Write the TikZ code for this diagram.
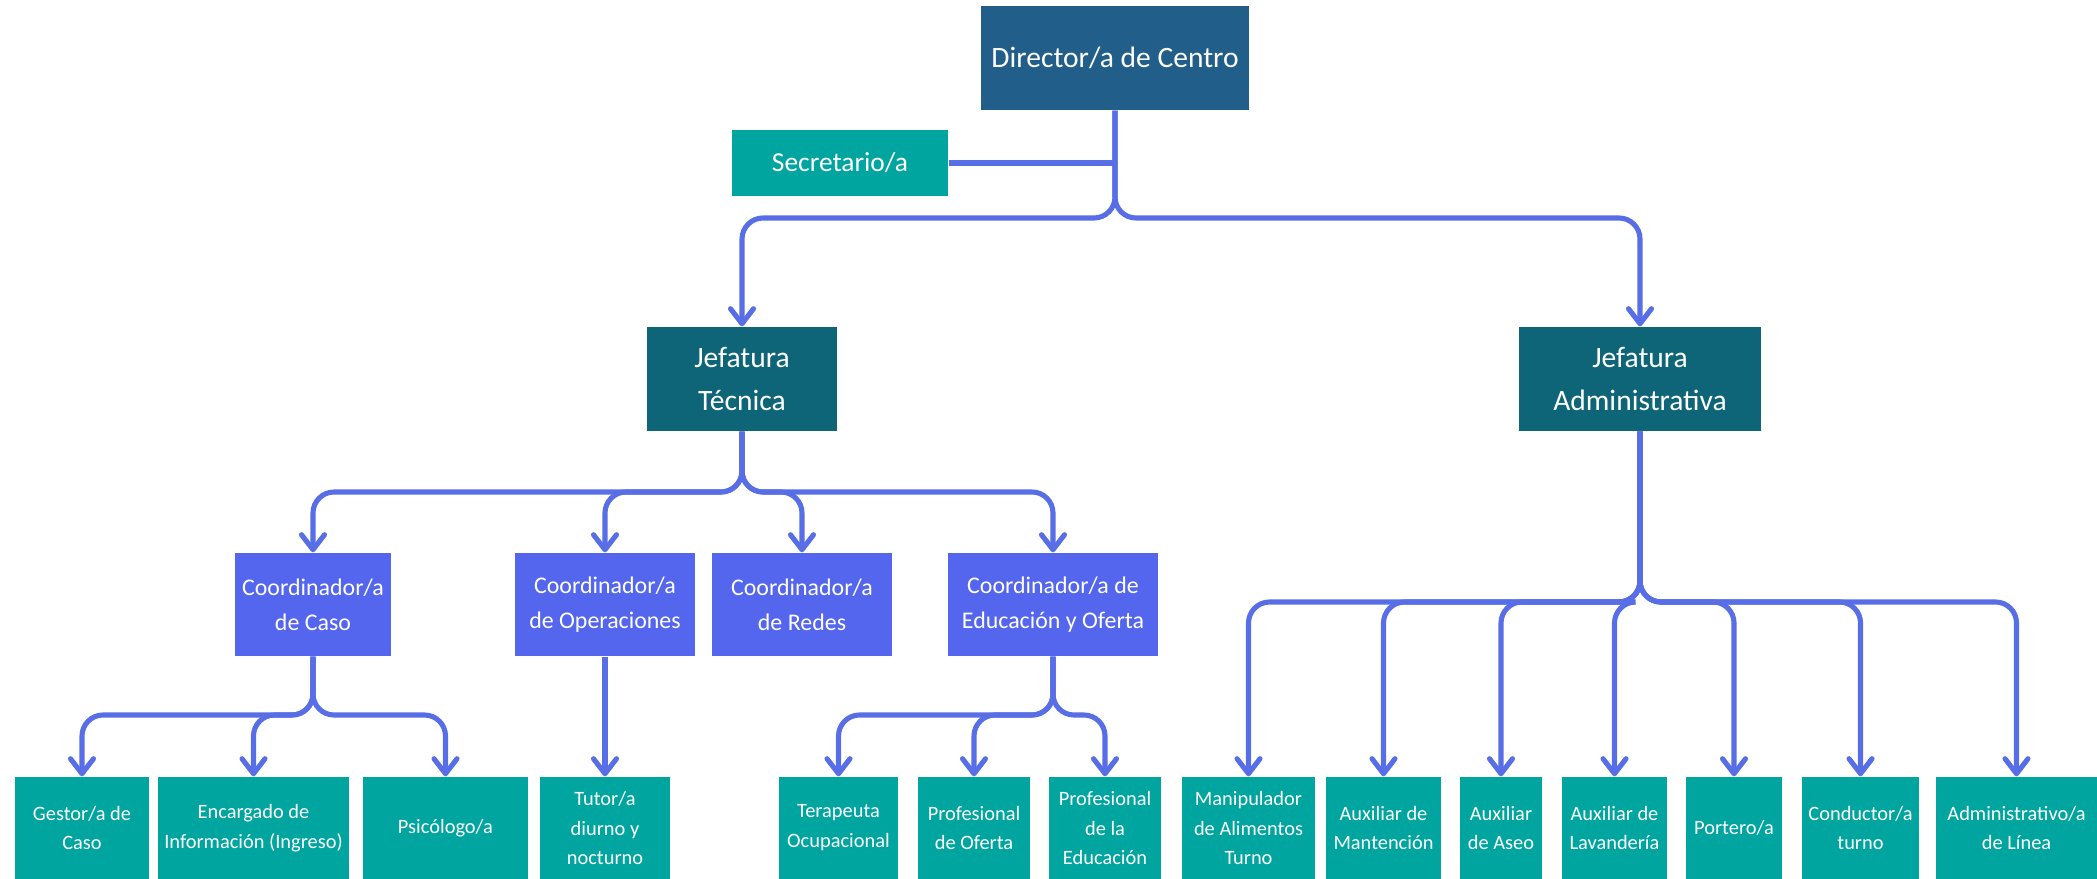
\documentclass[tikz,border=0pt]{standalone}
\usepackage{fontspec}
\setmainfont{Carlito}
\usetikzlibrary{arrows.meta}

\definecolor{dirblue}{RGB}{33,94,138}
\definecolor{jefeteal}{RGB}{15,101,120}
\definecolor{coordblue}{RGB}{84,102,238}
\definecolor{cargoteal}{RGB}{0,165,160}
\definecolor{linkblue}{RGB}{88,110,230}

\begin{document}
\begin{tikzpicture}[x=0.01cm,y=-0.01cm,
    box/.style={rectangle, inner sep=0pt, text=white, align=center},
    topbox/.style={box, fill=dirblue, font=\fontsize{8.4}{12}\selectfont},
    secbox/.style={box, fill=cargoteal, font=\fontsize{7.8}{11}\selectfont},
    jefebox/.style={box, fill=jefeteal, minimum height=1.04cm, font=\fontsize{8.4}{12}\selectfont},
    coordbox/.style={box, fill=coordblue, minimum height=1.03cm, font=\fontsize{6.8}{10}\selectfont},
    cargobox/.style={box, fill=cargoteal, minimum height=1.02cm, font=\fontsize{5.8}{8.5}\selectfont},
    link/.style={draw=linkblue, line width=1.45pt, rounded corners=0.21cm,
        -{Straight Barb[length=1.5mm,width=2.3mm,line width=1.45pt,round]}},
    wire/.style={draw=linkblue, line width=1.45pt}]
    \useasboundingbox (0,0) rectangle (2097,879);

    %% top
    \node[topbox, minimum width=2.68cm, minimum height=1.04cm] (dir) at (1115,58) {Director/a de Centro};
    \node[secbox, minimum width=2.16cm, minimum height=0.66cm] (sec) at (840,163) {Secretario/a};

    %% jefaturas
    \node[jefebox, minimum width=1.90cm] (jt) at (742,379) {Jefatura\\Técnica};
    \node[jefebox, minimum width=2.41cm] (ja) at (1640,379) {Jefatura\\Administrativa};

    %% coordinadores
    \node[coordbox, minimum width=1.56cm] (caso) at (313,604.5) {Coordinador/a\\de Caso};
    \node[coordbox, minimum width=1.79cm] (oper) at (605,604.5) {Coordinador/a\\de Operaciones};
    \node[coordbox, minimum width=1.79cm] (redes) at (802,604.5) {Coordinador/a\\de Redes};
    \node[coordbox, minimum width=2.10cm] (educ) at (1053,604.5) {Coordinador/a de\\Educación y Oferta};

    %% cargos
    \node[cargobox, minimum width=1.34cm] (gestor) at (82,828) {Gestor/a de\\Caso};
    \node[cargobox, minimum width=1.91cm] (encargado) at (253.5,828) {Encargado de\\Información (Ingreso)};
    \node[cargobox, minimum width=1.65cm] (psico) at (445.5,828) {Psicólogo/a};
    \node[cargobox, minimum width=1.30cm] (tutor) at (605,828) {Tutor/a\\diurno y\\nocturno};
    \node[cargobox, minimum width=1.19cm] (tera) at (838.5,828) {Terapeuta\\Ocupacional};
    \node[cargobox, minimum width=1.12cm] (oferta) at (974,828) {Profesional\\de Oferta};
    \node[cargobox, minimum width=1.12cm] (profedu) at (1105,828) {Profesional\\de la\\Educación};
    \node[cargobox, minimum width=1.33cm] (manip) at (1248.5,828) {Manipulador\\de Alimentos\\Turno};
    \node[cargobox, minimum width=1.15cm] (mant) at (1383.5,828) {Auxiliar de\\Mantención};
    \node[cargobox, minimum width=0.82cm] (aseo) at (1501,828) {Auxiliar\\de Aseo};
    \node[cargobox, minimum width=1.05cm] (lava) at (1614.5,828) {Auxiliar de\\Lavandería};
    \node[cargobox, minimum width=0.96cm] (portero) at (1734,828) {Portero/a};
    \node[cargobox, minimum width=1.17cm] (conductor) at (1860.5,828) {Conductor/a\\turno};
    \node[cargobox, minimum width=1.61cm] (admin) at (2016.5,828) {Administrativo/a\\de Línea};

    % connectors
    \draw[wire] (sec.east) -- (sec.east -| dir.south);
    \foreach \j in {jt,ja}
        \draw[link] (dir.south) -- (dir.south |- 0,218) -| (\j.north);
    \foreach \c in {caso,oper,redes,educ}
        \draw[link] (jt.south) -- (jt.south |- 0,492) -| (\c.north);
    \foreach \c in {gestor,encargado,psico}
        \draw[link] (caso.south) -- (caso.south |- 0,715) -| (\c.north);
    \draw[link] (oper.south) -- (tutor.north);
    \foreach \c in {tera,oferta,profedu}
        \draw[link] (educ.south) -- (educ.south |- 0,715) -| (\c.north);
    \foreach \c in {manip,mant,aseo,lava,portero,conductor,admin}
        \draw[link] (ja.south) -- (ja.south |- 0,602) -| (\c.north);
\end{tikzpicture}
\end{document}
